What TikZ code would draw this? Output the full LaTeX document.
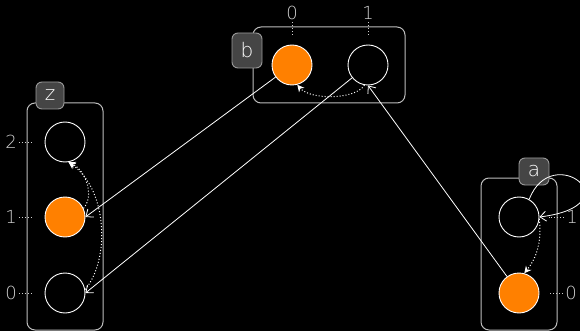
\documentclass[tikz,border=0pt]{standalone}
\usepackage{fontspec}
\newfontfamily\lightfont{DejaVu Sans ExtraLight}
\usetikzlibrary{arrows.meta}
\definecolor{orng}{HTML}{FF8000}
\definecolor{boxgray}{HTML}{454545}
\definecolor{taggray}{HTML}{9A9A9A}
\definecolor{framegray}{HTML}{BDBDBD}
\definecolor{idxgray}{HTML}{CFCFCF}
\begin{document}
\begin{tikzpicture}[x=1pt,y=-1pt,
 cell/.style={circle, draw=white, line width=0.9pt, minimum size=40pt, inner sep=0pt},
 full/.style={cell, fill=orng},
 frame/.style={draw=framegray, line width=1pt, rounded corners=8pt, inner sep=0pt},
 tag/.style={draw=taggray, fill=boxgray, line width=0.9pt, rounded corners=6pt, text=white,
   font=\lightfont\fontsize{20}{20}\selectfont, inner sep=0pt},
 idx/.style={text=idxgray, font=\lightfont\fontsize{18}{18}\selectfont, inner sep=2pt},
 idxline/.style={draw=idxgray, line width=0.9pt, dash pattern=on 1pt off 2pt},
 ptr/.style={draw=white, line width=0.8pt, -{Straight Barb[length=6pt,width=10pt]}},
 link/.style={draw=white, line width=1pt, dash pattern=on 1pt off 2pt, -{Stealth[length=7pt,width=7pt]}}
]
\path[use as bounding box, fill=black] (0,0) rectangle (580,331);

% containers
\node[frame, minimum width=76pt, minimum height=227pt] (zbox) at (65,216.5) {};
\node[frame, minimum width=152pt, minimum height=76pt] (bbox) at (329,65) {};
\node[frame, minimum width=76pt, minimum height=152pt] (abox) at (519,254) {};

% name tags
\node[tag, minimum width=28pt, minimum height=27pt] (ztag) at (50,95.5) {z};
\node[tag, minimum width=30pt, minimum height=35pt] (btag) at (247,50.5) {b};
\node[tag, minimum width=30pt, minimum height=27pt] (atag) at (534,171.5) {a};

% cells
\node[cell] (z2) at (65,142) {};
\node[full] (z1) at (65,217) {};
\node[cell] (z0) at (65,293) {};
\node[full] (b0) at (292,65) {};
\node[cell] (b1) at (368,65) {};
\node[cell] (a1) at (519,217) {};
\node[full] (a0) at (519,293) {};

% index labels
\node[idx] (z2i) at (11,142) {2};
\node[idx] (z1i) at (11,217) {1};
\node[idx] (z0i) at (11,293) {0};
\node[idx] (b0i) at (292,13) {0};
\node[idx] (b1i) at (368,13) {1};
\node[idx] (a1i) at (572,217) {1};
\node[idx] (a0i) at (571,293) {0};
\coordinate (z2p) at (33,142);
\coordinate (z1p) at (33,217);
\coordinate (z0p) at (33,293);
\coordinate (b0p) at (292,35);
\coordinate (b1p) at (368,35);
\coordinate (a1p) at (549,217);
\coordinate (a0p) at (549,293);
\draw[idxline] (z2i) -- (z2p);
\draw[idxline] (z1i) -- (z1p);
\draw[idxline] (z0i) -- (z0p);
\draw[idxline] (b0i) -- (b0p);
\draw[idxline] (b1i) -- (b1p);
\draw[idxline] (a1i) -- (a1p);
\draw[idxline] (a0i) -- (a0p);

% pointers
\draw[ptr] (b0) -- (z1.east);
\draw[ptr] (b1) -- (z0.east);
\draw[ptr] (a0) -- (b1.south);
\draw[ptr] (a1.60) .. controls (552,140) and (635,205) .. (a1.east);

% dotted links
\draw[link] (b1.-100) .. controls (355,100) and (310,100) .. (b0.-75);
\draw[link] (z1.25) .. controls (95,195) and (85,170) .. (z2.-80);
\draw[link] (z0.10) .. controls (110,260) and (108,190) .. (z2.-80);
\draw[link] (a1.-5) .. controls (542,245) and (535,260) .. (a0.75);
\end{tikzpicture}
\end{document}
